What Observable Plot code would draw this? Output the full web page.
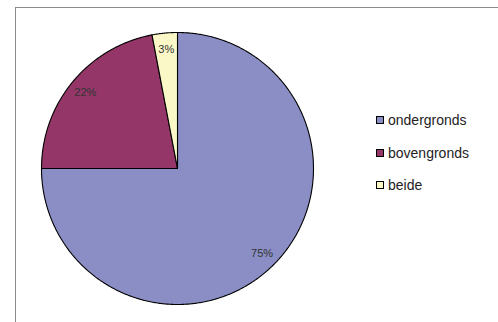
<!DOCTYPE html>
<html>
<head>
<meta charset="utf-8">
<script src="https://cdn.jsdelivr.net/npm/d3@7"></script>
<script src="https://cdn.jsdelivr.net/npm/@observablehq/plot@0.6"></script>
<style>
  html, body { margin: 0; padding: 0; background: #fff; }
  #wrap { position: relative; width: 498px; height: 322px; overflow: hidden; font-family: "Liberation Sans", Arial, sans-serif; }
  #chart { position: absolute; left: 0; top: 0; }
  #frame { position: absolute; left: 15px; top: 7px; width: 700px; height: 500px; border-top: 1px solid #8c8c8c; border-left: 1px solid #8c8c8c; pointer-events: none; }
  #legend { position: absolute; left: 376px; top: 111px; }
  .item { display: flex; align-items: center; height: 18px; margin-bottom: 14.5px; font-size: 14px; color: #222; }
  .sw { width: 6px; height: 6px; border: 1px solid #000; margin-right: 4px; }
</style>
</head>
<body>
<div id="wrap">
  <div id="chart"></div>
  <div id="frame"></div>
  <div id="legend"></div>
</div>
<script>
const categories = ["ondergronds", "bovengronds", "beide"];
const values = [75, 22, 3];
const labels = ["75%", "22%", "3%"];
const palette = ["#8a8ec5", "#943768", "#fbf8c8"];

const total = d3.sum(values);
const slices = [];
let acc = 0;
categories.forEach((name, i) => {
  const a0 = acc / total * 2 * Math.PI;
  acc += values[i];
  const a1 = acc / total * 2 * Math.PI;
  slices.push({name, a0, a1, label: labels[i]});
});

const pts = [];
for (const s of slices) {
  pts.push({name: s.name, x: 0, y: 0});
  const n = Math.max(2, Math.ceil((s.a1 - s.a0) / (Math.PI / 360)));
  for (let k = 0; k <= n; k++) {
    const a = s.a0 + (s.a1 - s.a0) * k / n;
    pts.push({name: s.name, x: Math.sin(a), y: Math.cos(a)});
  }
}

const labelPts = slices.map(s => {
  const m = (s.a0 + s.a1) / 2;
  const r = 0.88;
  return {text: s.label, x: r * Math.sin(m), y: r * Math.cos(m)};
});

const plot = Plot.plot({
  width: 498,
  height: 322,
  marginLeft: 41,
  marginRight: 185,
  marginTop: 32,
  marginBottom: 18,
  x: {domain: [-1, 1], axis: null},
  y: {domain: [-1, 1], axis: null},
  color: {domain: categories, range: palette},
  style: {background: "transparent", fontFamily: "'Liberation Sans', Arial, sans-serif"},
  marks: [
    Plot.line(pts, {x: "x", y: "y", z: "name", fill: "name", stroke: "#000", strokeWidth: 1.1, curve: "linear-closed"}),
    Plot.text(labelPts, {x: "x", y: "y", text: "text", fontSize: 11, fill: "#333"})
  ]
});
document.getElementById("chart").appendChild(plot);

const legend = document.getElementById("legend");
categories.forEach((c, i) => {
  const item = document.createElement("div");
  item.className = "item";
  const sw = document.createElement("div");
  sw.className = "sw";
  sw.style.background = palette[i];
  const t = document.createElement("span");
  t.textContent = c;
  item.appendChild(sw);
  item.appendChild(t);
  legend.appendChild(item);
});
</script>
</body>
</html>
